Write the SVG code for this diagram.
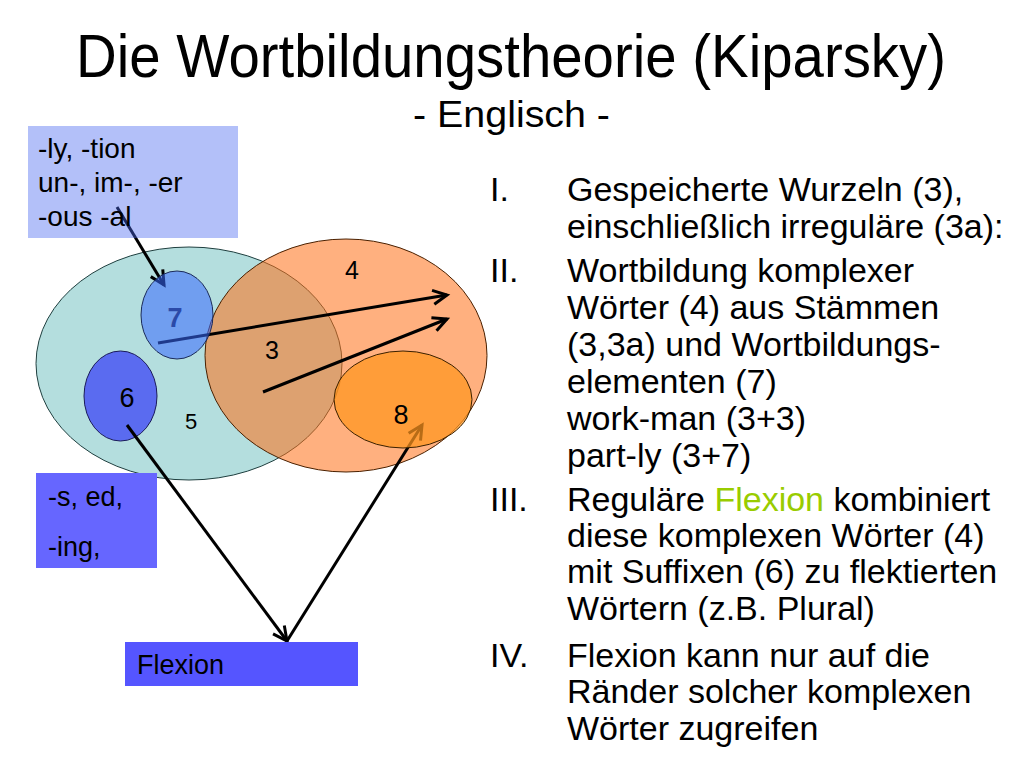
<svg xmlns="http://www.w3.org/2000/svg" width="1024" height="768" viewBox="0 0 1024 768">
<defs>
<marker id="arr" markerUnits="userSpaceOnUse" markerWidth="20" markerHeight="20" viewBox="0 0 20 20" refX="16" refY="10" orient="auto">
<path d="M2,3 L16,10 L2,17" fill="none" stroke="#000" stroke-width="3" stroke-linejoin="miter"/>
</marker>
</defs>
<style>
text{font-family:"Liberation Sans",Arial,sans-serif;fill:#000}
.list{font-size:34px}
.lab{font-size:27px}
.num{text-anchor:middle}
.conn{stroke:#000;stroke-width:3;fill:none;marker-end:url(#arr)}
</style>
<rect width="1024" height="768" fill="#fff"/>
<g id="title">
<text x="76" y="77" font-size="61" textLength="870" lengthAdjust="spacingAndGlyphs">Die Wortbildungstheorie (Kiparsky)</text>
<text x="413" y="127" font-size="36" textLength="197" lengthAdjust="spacingAndGlyphs">- Englisch -</text>
</g>
<g id="set5">
<ellipse cx="189" cy="363.5" rx="153" ry="116.5" fill="#B4DEDE" stroke="#1f3f3f" stroke-width="1"/>
<text x="191" y="429" font-size="22" class="num">5</text>
</g>
<g id="set4">
<ellipse cx="346" cy="355.5" rx="141" ry="116.5" fill="rgb(255,111,22)" fill-opacity="0.55" stroke="#4a2000" stroke-width="1"/>
<text x="352" y="279" font-size="25" class="num">4</text>
<text x="272" y="359" font-size="25" class="num">3</text>
</g>
<g id="set6">
<ellipse cx="120.5" cy="396" rx="36.5" ry="45" fill="#5A6BF0" stroke="#1a1a5a" stroke-width="1"/>
<text x="127" y="407" class="lab num">6</text>
</g>
<g id="connectors">
<path class="conn" d="M117,207 L164,285"/>
<path class="conn" d="M158,343 L447,295"/>
<path class="conn" d="M263,392 L447,319"/>
<path class="conn" d="M127,425 L287,641"/>
<path class="conn" d="M287,641 L422,425" stroke-width="4"/>
</g>
<g id="box-derivation">
<rect x="28" y="126" width="210" height="112" fill="rgb(75,105,240)" fill-opacity="0.42"/>
<text x="38" y="158" font-size="28">-ly, -tion</text>
<text x="38" y="192" font-size="28">un-, im-, -er</text>
<text x="38" y="226" font-size="28">-ous -al</text>
</g>
<g id="set7">
<ellipse cx="177" cy="315" rx="36" ry="44" fill="rgb(56,105,255)" fill-opacity="0.55" stroke="#1a2a5a" stroke-width="1"/>
<text x="175" y="327" class="lab num" font-weight="bold" style="fill:#2B4AA8">7</text>
</g>
<g id="set8">
<ellipse cx="403" cy="399.5" rx="69" ry="48.5" fill="rgb(255,150,30)" fill-opacity="0.72" stroke="#3a2000" stroke-width="1"/>
<text x="401" y="424" class="lab num">8</text>
</g>
<g id="box-suffixes">
<rect x="36" y="473" width="121" height="95" fill="#6666FF"/>
<text x="48" y="506" class="lab">-s, ed,</text>
<text x="48" y="556" class="lab">-ing,</text>
</g>
<g id="box-flexion">
<rect x="125" y="642" width="233" height="44" fill="#5555FF"/>
<text x="137" y="674" class="lab">Flexion</text>
</g>
<g id="list">
<text x="490" y="201" class="list">I.</text>
<text x="567" y="201" class="list">Gespeicherte Wurzeln (3),</text>
<text x="567" y="238" class="list">einschließlich irreguläre (3a):</text>
<text x="490" y="282" class="list">II.</text>
<text x="567" y="282" class="list">Wortbildung komplexer</text>
<text x="567" y="319" class="list">Wörter (4) aus Stämmen</text>
<text x="567" y="356" class="list">(3,3a) und Wortbildungs-</text>
<text x="567" y="393" class="list">elementen (7)</text>
<text x="567" y="430" class="list">work-man (3+3)</text>
<text x="567" y="467" class="list">part-ly (3+7)</text>
<text x="490" y="511" class="list">III.</text>
<text x="567" y="511" class="list">Reguläre <tspan style="fill:#99CC00">Flexion</tspan> kombiniert</text>
<text x="567" y="547" class="list">diese komplexen Wörter (4)</text>
<text x="567" y="583" class="list">mit Suffixen (6) zu flektierten</text>
<text x="567" y="620" class="list">Wörtern (z.B. Plural)</text>
<text x="490" y="667" class="list">IV.</text>
<text x="567" y="667" class="list">Flexion kann nur auf die</text>
<text x="567" y="703" class="list">Ränder solcher komplexen</text>
<text x="567" y="740" class="list">Wörter zugreifen</text>
</g>
</svg>
